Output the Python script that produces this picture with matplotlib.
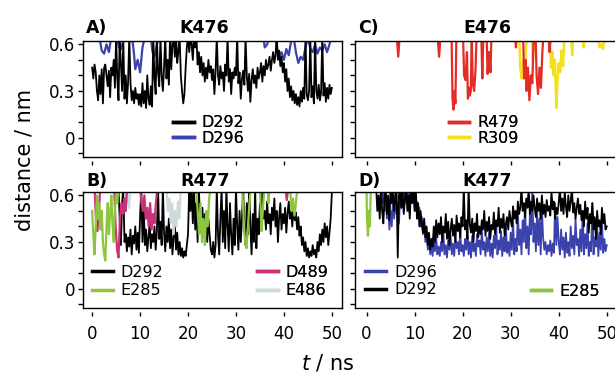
import numpy as np
import matplotlib.pyplot as plt
from matplotlib.ticker import MultipleLocator

# time grid of the dense traces, 0.25 ns
t = np.linspace(0, 50, 201)

# ---- A) K476 ----
a_d292 = [0.45, 0.38, 0.47, 0.42, 0.30, 0.24, 0.40, 0.28, 0.44, 0.22, 0.45, 0.47, 0.40, 0.33, 0.43, 0.26, 0.45, 0.40, 0.50, 0.32,
          0.65, 0.38, 0.24, 0.65, 0.48, 0.30, 0.62, 0.25, 0.40, 0.22, 0.36, 0.65, 0.35, 0.24, 0.30, 0.22, 0.32, 0.25, 0.28, 0.21,
          0.28, 0.20, 0.35, 0.22, 0.30, 0.19, 0.40, 0.25, 0.21, 0.33, 0.20, 0.65, 0.38, 0.28, 0.65, 0.42, 0.33, 0.65, 0.40, 0.30,
          0.45, 0.65, 0.38, 0.50, 0.34, 0.65, 0.44, 0.60, 0.65, 0.52, 0.65, 0.48, 0.56, 0.65, 0.40, 0.30, 0.22, 0.28, 0.45, 0.58,
          0.65, 0.55, 0.65, 0.60, 0.50, 0.65, 0.58, 0.65, 0.47, 0.55, 0.42, 0.52, 0.40, 0.48, 0.36, 0.45, 0.38, 0.50, 0.42, 0.46,
          0.37, 0.44, 0.28, 0.43, 0.65, 0.40, 0.34, 0.46, 0.38, 0.42, 0.30, 0.47, 0.40, 0.65, 0.36, 0.44, 0.28, 0.42, 0.38, 0.45,
          0.40, 0.65, 0.35, 0.42, 0.25, 0.38, 0.43, 0.34, 0.65, 0.40, 0.30, 0.41, 0.23, 0.37, 0.44, 0.35, 0.40, 0.32, 0.45, 0.38,
          0.42, 0.48, 0.36, 0.46, 0.40, 0.50, 0.44, 0.47, 0.52, 0.43, 0.50, 0.55, 0.48, 0.53, 0.65, 0.50, 0.56, 0.46, 0.52, 0.42,
          0.48, 0.36, 0.44, 0.30, 0.38, 0.26, 0.33, 0.24, 0.30, 0.22, 0.28, 0.21, 0.26, 0.20, 0.30, 0.23, 0.32, 0.25, 0.65, 0.28,
          0.24, 0.30, 0.65, 0.26, 0.33, 0.22, 0.65, 0.30, 0.25, 0.34, 0.24, 0.29, 0.65, 0.27, 0.35, 0.23, 0.32, 0.25, 0.34, 0.28,
          0.32]
a_d296_t = [0, 1.5, 2.0, 2.5, 3.0, 3.5, 4.0, 5.2, 5.6, 6.0, 6.5, 7.0, 8.3, 8.7, 9.0, 9.5, 10.0, 10.5, 11.0, 12.2, 12.6, 13.0, 13.5, 14.0,
            35.7, 36.0, 36.5, 37.0, 38.3, 38.6, 39.0, 39.5, 40.0, 40.5, 41.0, 41.5, 42.0, 42.5, 43.0, 43.5, 44.0, 44.5, 45.0,
            45.5, 46.0, 46.5, 47.0, 47.5, 48.0, 48.5, 49.0, 49.5, 50.0]
a_d296 = [0.65, 0.65, 0.56, 0.54, 0.60, 0.55, 0.65, 0.65, 0.58, 0.57, 0.62, 0.65, 0.65, 0.55, 0.44, 0.50, 0.42, 0.58, 0.65, 0.65, 0.55, 0.52, 0.60, 0.65,
          0.65, 0.58, 0.60, 0.65, 0.65, 0.56, 0.52, 0.55, 0.50, 0.57, 0.53, 0.62, 0.65, 0.55, 0.48, 0.52, 0.50, 0.58, 0.65,
          0.57, 0.55, 0.60, 0.54, 0.58, 0.56, 0.60, 0.55, 0.60, 0.65]

# ---- B) R477 ----
b_d292 = [0.65, 0.65, 0.65, 0.65, 0.65, 0.65, 0.65, 0.65, 0.65, 0.65, 0.65, 0.65, 0.65, 0.65, 0.65, 0.65, 0.65, 0.65, 0.65, 0.65,
          0.65, 0.65, 0.65, 0.44, 0.28, 0.55, 0.65, 0.30, 0.35, 0.24, 0.33, 0.27, 0.38, 0.22, 0.34, 0.29, 0.40, 0.25, 0.36, 0.23,
          0.46, 0.65, 0.30, 0.55, 0.28, 0.38, 0.24, 0.33, 0.42, 0.26, 0.35, 0.30, 0.40, 0.25, 0.37, 0.65, 0.32, 0.43, 0.28, 0.65,
          0.36, 0.24, 0.40, 0.30, 0.45, 0.26, 0.38, 0.22, 0.33, 0.42, 0.25, 0.36, 0.22, 0.30, 0.21, 0.26, 0.20, 0.24, 0.21, 0.28,
          0.35, 0.65, 0.50, 0.65, 0.42, 0.65, 0.38, 0.55, 0.30, 0.65, 0.45, 0.36, 0.52, 0.33, 0.48, 0.40, 0.30, 0.45, 0.35, 0.25,
          0.22, 0.30, 0.20, 0.28, 0.65, 0.35, 0.22, 0.45, 0.65, 0.30, 0.50, 0.26, 0.65, 0.40, 0.24, 0.55, 0.35, 0.22, 0.45, 0.28,
          0.65, 0.40, 0.25, 0.50, 0.30, 0.45, 0.65, 0.38, 0.28, 0.55, 0.35, 0.65, 0.40, 0.22, 0.48, 0.30, 0.65, 0.26, 0.45, 0.35,
          0.55, 0.40, 0.65, 0.45, 0.50, 0.38, 0.56, 0.42, 0.48, 0.35, 0.52, 0.44, 0.58, 0.40, 0.50, 0.30, 0.46, 0.55, 0.38, 0.48,
          0.42, 0.52, 0.36, 0.48, 0.56, 0.45, 0.50, 0.40, 0.53, 0.44, 0.49, 0.38, 0.46, 0.34, 0.40, 0.28, 0.33, 0.24, 0.30, 0.21,
          0.26, 0.20, 0.24, 0.21, 0.28, 0.22, 0.25, 0.20, 0.30, 0.24, 0.35, 0.28, 0.38, 0.30, 0.42, 0.33, 0.40, 0.28, 0.36, 0.45,
          0.62]
b_e285_t = [0, 0.25, 0.5, 0.75, 1.0, 1.25, 1.5, 1.75, 2.0, 2.25, 2.5, 2.75, 3.0, 3.25, 3.5, 3.75, 4.0, 4.25, 4.5, 4.75, 5.0, 5.25, 5.5,
            21.7, 22.0, 22.3, 22.6, 22.9, 23.2, 23.5, 23.8, 24.1, 24.4, 24.7, 31.3, 31.6, 31.9, 32.2, 32.5, 32.8, 33.1,
            35.0, 35.3, 35.6, 35.9, 36.6, 36.8, 37.0, 41.3, 41.6, 41.9, 42.2, 42.5, 42.8, 50.0]
b_e285 = [0.50, 0.35, 0.22, 0.40, 0.60, 0.45, 0.55, 0.38, 0.50, 0.30, 0.22, 0.18, 0.40, 0.55, 0.35, 0.48, 0.60, 0.42, 0.30, 0.50, 0.62, 0.55, 0.65,
          0.65, 0.50, 0.35, 0.55, 0.30, 0.45, 0.28, 0.50, 0.40, 0.58, 0.65, 0.65, 0.45, 0.30, 0.26, 0.40, 0.55, 0.65,
          0.65, 0.37, 0.50, 0.65, 0.65, 0.55, 0.65, 0.65, 0.50, 0.58, 0.47, 0.55, 0.65, 0.65]
b_d489_t = [0, 0.5, 0.8, 1.1, 1.4, 1.7, 4.6, 4.9, 5.2, 5.5, 5.8, 6.1, 6.4, 6.7, 7.0, 7.3, 10.0, 10.3, 10.6, 10.9, 11.2, 11.5, 11.8,
            12.1, 12.4, 12.7, 13.0, 13.3, 13.6, 40.3, 40.6, 40.9, 50.0]
b_d489 = [0.65, 0.65, 0.45, 0.37, 0.50, 0.65, 0.65, 0.40, 0.25, 0.20, 0.45, 0.55, 0.48, 0.58, 0.50, 0.65, 0.65, 0.55, 0.50, 0.60, 0.45, 0.52, 0.40,
          0.55, 0.38, 0.48, 0.42, 0.55, 0.65, 0.65, 0.57, 0.65, 0.65]
b_e486_t = [0, 6.8, 7.1, 7.4, 7.7, 8.0, 15.5, 15.8, 16.1, 16.4, 16.7, 17.0, 17.3, 17.6, 17.9, 18.2, 18.5, 50.0]
b_e486 = [0.65, 0.65, 0.55, 0.60, 0.52, 0.65, 0.65, 0.50, 0.58, 0.42, 0.55, 0.35, 0.50, 0.40, 0.56, 0.45, 0.65, 0.65]

# ---- C) E476 ----
c_r479_t = [0, 6.3, 6.6, 6.9, 14.8, 15.1, 15.4, 17.7, 17.9, 18.1, 18.3, 18.5, 18.7, 20.1, 20.3, 20.6, 20.9, 21.1, 21.3, 21.5, 21.7,
            21.9, 22.1, 22.4, 22.7, 22.9, 23.9, 24.1, 24.3, 25.0, 25.2, 25.5, 25.8, 26.0, 30.9, 31.1, 31.3, 32.6, 32.8, 33.1,
            33.3, 33.6, 33.9, 34.2, 34.5, 34.8, 35.2, 35.4, 35.7, 36.0, 36.3, 36.6, 36.8, 37.9, 38.1, 38.3, 50.0]
c_r479 = [0.65, 0.65, 0.52, 0.65, 0.65, 0.52, 0.65, 0.65, 0.25, 0.18, 0.30, 0.22, 0.65, 0.65, 0.40, 0.37, 0.55, 0.25, 0.32, 0.27, 0.30,
          0.65, 0.35, 0.30, 0.45, 0.65, 0.65, 0.38, 0.65, 0.65, 0.41, 0.55, 0.42, 0.65, 0.65, 0.58, 0.65, 0.65, 0.38, 0.50,
          0.30, 0.45, 0.24, 0.40, 0.35, 0.65, 0.65, 0.40, 0.28, 0.45, 0.32, 0.55, 0.65, 0.65, 0.55, 0.65, 0.65]
c_r309_t = [0, 31.8, 32.0, 32.3, 32.6, 32.9, 33.2, 33.5, 34.4, 34.6, 34.9, 38.2, 38.4, 38.7, 38.9, 39.2, 39.5, 39.7, 40.0, 40.3,
            40.6, 40.9, 41.2, 42.6, 42.8, 43.0, 45.0, 45.2, 45.4, 48.2, 48.5, 48.8, 49.2, 49.6, 50.0]
c_r309 = [0.65, 0.65, 0.45, 0.38, 0.50, 0.42, 0.58, 0.65, 0.65, 0.50, 0.65, 0.65, 0.45, 0.55, 0.40, 0.50, 0.19, 0.35, 0.48, 0.42,
          0.56, 0.46, 0.65, 0.65, 0.53, 0.65, 0.65, 0.58, 0.65, 0.65, 0.58, 0.60, 0.57, 0.65, 0.65]

# ---- D) K477 ----
d_d296 = [0.65, 0.65, 0.65, 0.65, 0.65, 0.65, 0.65, 0.65, 0.65, 0.65, 0.65, 0.65, 0.65, 0.55, 0.65, 0.50, 0.60, 0.45, 0.55, 0.38,
          0.50, 0.40, 0.58, 0.45, 0.62, 0.48, 0.55, 0.42, 0.60, 0.52, 0.65, 0.58, 0.65, 0.55, 0.65, 0.50, 0.62, 0.65, 0.55, 0.65,
          0.60, 0.50, 0.56, 0.45, 0.52, 0.40, 0.46, 0.35, 0.42, 0.30, 0.36, 0.25, 0.32, 0.22, 0.28, 0.21, 0.30, 0.24, 0.33, 0.22,
          0.27, 0.21, 0.30, 0.24, 0.35, 0.22, 0.28, 0.20, 0.31, 0.25, 0.34, 0.22, 0.29, 0.21, 0.33, 0.26, 0.30, 0.22, 0.36, 0.24,
          0.28, 0.21, 0.32, 0.25, 0.37, 0.22, 0.30, 0.20, 0.34, 0.24, 0.29, 0.21, 0.35, 0.27, 0.31, 0.22, 0.38, 0.25, 0.30, 0.21,
          0.33, 0.24, 0.36, 0.21, 0.29, 0.20, 0.34, 0.26, 0.40, 0.22, 0.31, 0.25, 0.37, 0.21, 0.33, 0.24, 0.42, 0.23, 0.30, 0.21,
          0.36, 0.25, 0.45, 0.22, 0.32, 0.24, 0.50, 0.28, 0.38, 0.22, 0.44, 0.30, 0.55, 0.26, 0.40, 0.22, 0.48, 0.35, 0.65, 0.30,
          0.42, 0.24, 0.50, 0.28, 0.45, 0.22, 0.52, 0.33, 0.25, 0.30, 0.22, 0.28, 0.24, 0.31, 0.21, 0.29, 0.23, 0.55, 0.28, 0.46,
          0.30, 0.22, 0.38, 0.25, 0.33, 0.20, 0.36, 0.23, 0.30, 0.21, 0.40, 0.26, 0.34, 0.22, 0.45, 0.28, 0.32, 0.21, 0.38, 0.24,
          0.50, 0.22, 0.35, 0.26, 0.42, 0.21, 0.30, 0.24, 0.55, 0.22, 0.33, 0.27, 0.40, 0.21, 0.36, 0.25, 0.45, 0.23, 0.32, 0.24,
          0.28]
d_d292 = [0.65, 0.65, 0.65, 0.65, 0.65, 0.65, 0.65, 0.65, 0.65, 0.50, 0.60, 0.45, 0.65, 0.50, 0.42, 0.58, 0.65, 0.48, 0.60, 0.44,
          0.62, 0.55, 0.65, 0.50, 0.58, 0.65, 0.20, 0.60, 0.65, 0.52, 0.62, 0.48, 0.58, 0.65, 0.50, 0.60, 0.45, 0.65, 0.55, 0.62,
          0.50, 0.65, 0.45, 0.55, 0.40, 0.50, 0.42, 0.36, 0.45, 0.33, 0.40, 0.28, 0.36, 0.25, 0.32, 0.27, 0.40, 0.30, 0.44, 0.33,
          0.42, 0.35, 0.46, 0.30, 0.40, 0.36, 0.48, 0.32, 0.43, 0.28, 0.38, 0.45, 0.34, 0.41, 0.30, 0.47, 0.37, 0.42, 0.33, 0.46,
          0.40, 0.65, 0.38, 0.44, 0.32, 0.65, 0.41, 0.36, 0.45, 0.30, 0.42, 0.37, 0.48, 0.33, 0.40, 0.35, 0.44, 0.38, 0.50, 0.34,
          0.43, 0.37, 0.46, 0.32, 0.41, 0.38, 0.49, 0.35, 0.44, 0.40, 0.52, 0.36, 0.45, 0.39, 0.48, 0.34, 0.42, 0.46, 0.38, 0.50,
          0.44, 0.40, 0.53, 0.45, 0.50, 0.42, 0.56, 0.48, 0.52, 0.65, 0.50, 0.55, 0.46, 0.58, 0.52, 0.65, 0.48, 0.56, 0.50, 0.60,
          0.52, 0.46, 0.58, 0.50, 0.55, 0.45, 0.60, 0.48, 0.54, 0.46, 0.57, 0.50, 0.53, 0.47, 0.62, 0.51, 0.56, 0.45, 0.52, 0.48,
          0.55, 0.65, 0.50, 0.58, 0.48, 0.62, 0.53, 0.46, 0.60, 0.50, 0.56, 0.65, 0.49, 0.55, 0.45, 0.52, 0.58, 0.48, 0.54, 0.44,
          0.50, 0.40, 0.56, 0.45, 0.52, 0.36, 0.48, 0.42, 0.55, 0.38, 0.46, 0.32, 0.50, 0.40, 0.44, 0.35, 0.52, 0.42, 0.48, 0.38,
          0.40]
d_e285_t = [0, 0.1, 0.3, 0.5, 0.7, 0.9, 50.0]
d_e285 = [0.65, 0.45, 0.34, 0.50, 0.40, 0.65, 0.65]

BLACK = '#000000'
BLUE = '#3c42ac'
GREEN = '#8cc63f'
PINK = '#cc3079'
LIGHT = '#cdd9db'
RED = '#e42b24'
YELLOW = '#f3e21b'

fig = plt.figure(figsize=(6.15, 3.72), dpi=100)
axA = fig.add_axes([0.135, 0.578, 0.421, 0.312])
axC = fig.add_axes([0.578, 0.578, 0.425, 0.312])
axB = fig.add_axes([0.135, 0.172, 0.421, 0.312])
axD = fig.add_axes([0.578, 0.172, 0.425, 0.312])

lw = 1.3
axA.plot(a_d296_t, a_d296, color=BLUE, lw=1.6)
axA.plot(t, a_d292, color=BLACK, lw=lw)

axB.plot(t, b_d292, color=BLACK, lw=lw)
axB.plot(b_e486_t, b_e486, color=LIGHT, lw=1.6)
axB.plot(b_d489_t, b_d489, color=PINK, lw=1.6)
axB.plot(b_e285_t, b_e285, color=GREEN, lw=1.6)

axC.plot(c_r309_t, c_r309, color=YELLOW, lw=1.8)
axC.plot(c_r479_t, c_r479, color=RED, lw=1.6)

axD.plot(t, d_d296, color=BLUE, lw=lw)
axD.plot(t, d_d292, color=BLACK, lw=lw)
axD.plot(d_e285_t, d_e285, color=GREEN, lw=1.6)

for ax in [axA, axB, axC, axD]:
    ax.set_ylim(-0.125, 0.622)
    ax.set_yticks([0, 0.3, 0.6])
    ax.set_yticklabels(['0', '0.3', '0.6'])
    ax.yaxis.set_minor_locator(MultipleLocator(0.1))
    ax.set_xticks([0, 10, 20, 30, 40, 50])
    ax.tick_params(axis='y', which='both', direction='out', length=3.6, width=1, labelsize=12, pad=2)
    ax.tick_params(axis='x', direction='out', length=3, width=1, labelsize=12, pad=6)
    ax.spines['bottom'].set_position(('outward', 3))
    ax.spines['bottom'].set_color('none')
    ax.plot([0, 1], [0, 0], transform=ax.transAxes, color='k', lw=1, clip_on=False)
    for s in ['left', 'top', 'right']:
        ax.spines[s].set_linewidth(1)

axA.set_xlim(-1.9, 52.1)
axB.set_xlim(-1.9, 52.1)
axC.set_xlim(-2.3, 52.1)
axD.set_xlim(-2.3, 52.1)
axA.tick_params(axis='x', labelbottom=False)
axC.tick_params(axis='x', labelbottom=False)
axC.tick_params(axis='y', labelleft=False)
axD.tick_params(axis='y', labelleft=False)

def head(ax, letter, name, xn, yb):
    ax.text(0.012, yb, letter, transform=ax.transAxes, fontsize=12.5, fontweight='bold', va='baseline')
    ax.text(xn, yb, name, transform=ax.transAxes, fontsize=12.5, fontweight='bold', va='baseline', ha='center')

head(axA, 'A)', 'K476', 0.467, 1.069)
head(axC, 'C)', 'E476', 0.505, 1.069)
head(axB, 'B)', 'R477', 0.47, 1.055)
head(axD, 'D)', 'K477', 0.505, 1.055)

def leg(ax, labels, colors, x, y, sp=0.05):
    hs = [plt.Line2D([], [], color=c, lw=2.5) for c in colors]
    lg = ax.legend(hs, labels, loc='upper left', bbox_to_anchor=(x, y), frameon=False, fontsize=11.5,
                   handlelength=1.3, handletextpad=0.5, labelspacing=sp, borderpad=0, borderaxespad=0)
    ax.add_artist(lg)

leg(axA, ['D292', 'D296'], [BLACK, BLUE], 0.347, 0.36)
leg(axC, ['R479', 'R309'], [RED, YELLOW], 0.356, 0.36)
leg(axB, ['D292', 'E285'], [BLACK, GREEN], 0.035, 0.37, 0.2)
leg(axB, ['D489', 'E486'], [PINK, LIGHT], 0.672, 0.37, 0.2)
leg(axD, ['D296', 'D292'], [BLUE, BLACK], 0.038, 0.37, 0.15)
leg(axD, ['E285'], [GREEN], 0.67, 0.21)

fig.text(0.04, 0.57, 'distance / nm', rotation=90, ha='center', va='center', fontsize=15)
fig.text(0.533, 0.008, r'$t$ / ns', ha='center', va='baseline', fontsize=15)

fig.savefig('out.png', dpi=100)
